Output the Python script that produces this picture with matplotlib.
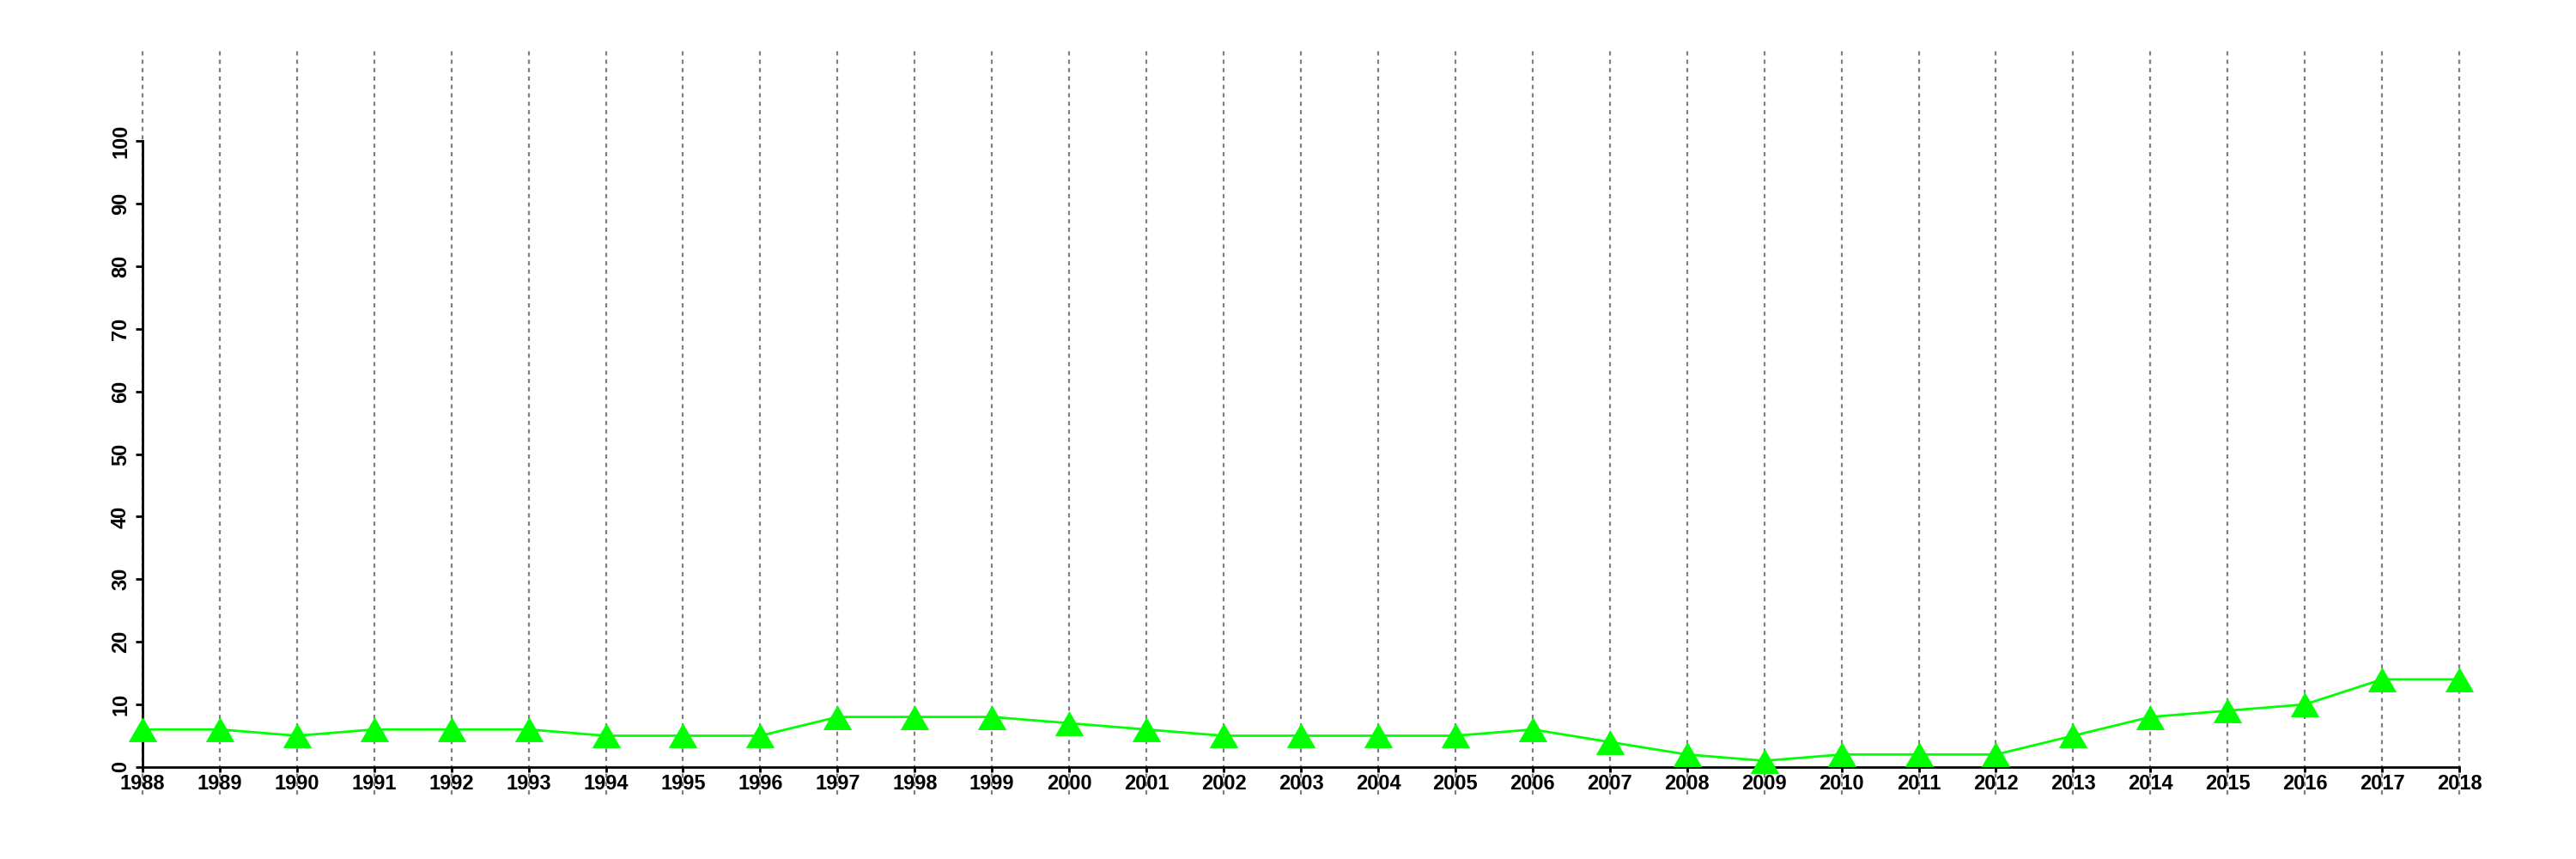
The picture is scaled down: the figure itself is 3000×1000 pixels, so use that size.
import matplotlib
matplotlib.use("Agg")
import matplotlib.pyplot as plt

years = list(range(1988, 2019))
values = [6, 6, 5, 6, 6, 6, 5, 5, 5, 8, 8, 8, 7, 6, 5, 5, 5, 5, 6, 4, 2, 1, 2, 2, 2, 5, 8, 9, 10, 14, 14]
y_ticks = list(range(0, 101, 10))

plt.rcParams['font.family'] = ['Liberation Sans', 'DejaVu Sans']
plt.rcParams['font.weight'] = 'bold'

fig = plt.figure(figsize=(30, 10), dpi=100)
ax = fig.add_axes([0.0553, 0.075, 0.8994, 0.868])
ax.set_xlim(1988, 2018)
ax.set_ylim(-4.4, 114.7)

# vertical dotted lines at each year
for yr in years:
    ax.axvline(yr, color='#808080', linestyle=(0, (2.2, 2.2)), linewidth=1.6,
               zorder=1, clip_on=False)

# equilateral triangle like R's pch 17
tri = [(-1, -0.866), (1, -0.866), (0, 0.866), (-1, -0.866)]
ax.plot(years, values, color='#00ff00', linewidth=2.0, marker=tri, markersize=24,
        markeredgewidth=0, clip_on=False, zorder=3)

ax.spines['top'].set_visible(False)
ax.spines['right'].set_visible(False)
ax.spines['bottom'].set_position(('data', 0))
ax.spines['bottom'].set_bounds(1988, 2018)
ax.spines['left'].set_bounds(0, 100)
for side in ('bottom', 'left'):
    ax.spines[side].set_linewidth(2.0)
    ax.spines[side].set_zorder(2)

ax.set_xticks(years)
ax.set_xticklabels([str(y) for y in years], fontsize=17, fontweight='bold')
ax.set_yticks(y_ticks)
ax.set_yticklabels([str(v) for v in y_ticks], fontsize=17, fontweight='bold', rotation=90, va='center')
ax.tick_params(axis='x', length=4, width=2, pad=2)
ax.tick_params(axis='y', length=6, width=2, pad=4)

fig.savefig('out.png', dpi=100, facecolor='white')
